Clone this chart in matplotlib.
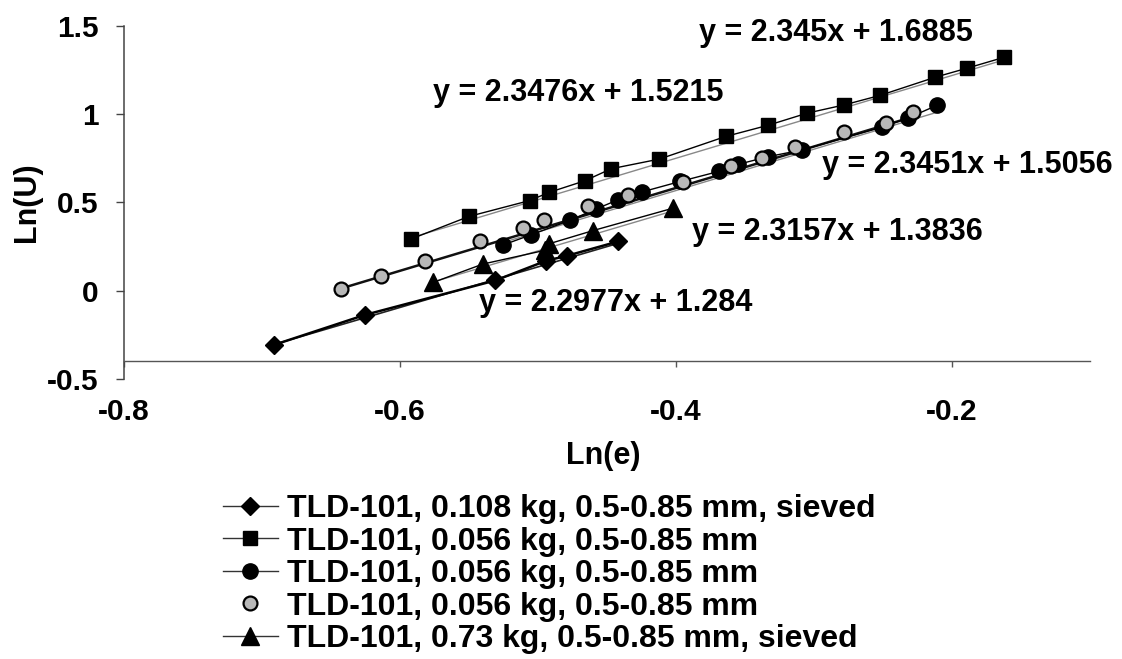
import numpy as np
import matplotlib
matplotlib.use("Agg")
import matplotlib.pyplot as plt
from matplotlib.lines import Line2D

plt.rcParams['font.family'] = ['Liberation Sans', 'DejaVu Sans']
plt.rcParams['font.weight'] = 'bold'

# Series data: Ln(e) on x, Ln(U) on y
dia_x = [-0.691, -0.625, -0.531, -0.494, -0.479, -0.442]
dia_y = [-0.306, -0.136, 0.058, 0.170, 0.198, 0.279]

sq_x = [-0.592, -0.550, -0.506, -0.492, -0.466, -0.447, -0.412, -0.364,
        -0.333, -0.305, -0.278, -0.252, -0.212, -0.189, -0.162]
sq_y = [0.293, 0.421, 0.511, 0.557, 0.623, 0.691, 0.746, 0.874,
        0.938, 1.006, 1.053, 1.107, 1.210, 1.261, 1.323]

blk_x = [-0.525, -0.505, -0.477, -0.458, -0.442, -0.425, -0.397, -0.369,
         -0.355, -0.333, -0.309, -0.251, -0.232, -0.211]
blk_y = [0.260, 0.317, 0.398, 0.463, 0.515, 0.559, 0.619, 0.676,
         0.716, 0.760, 0.797, 0.926, 0.978, 1.050]

gry_x = [-0.643, -0.614, -0.582, -0.542, -0.511, -0.496, -0.464, -0.435,
         -0.395, -0.360, -0.338, -0.314, -0.278, -0.248, -0.228]
gry_y = [0.010, 0.081, 0.168, 0.284, 0.355, 0.402, 0.481, 0.544,
         0.617, 0.704, 0.750, 0.813, 0.902, 0.952, 1.011]

tri_x = [-0.576, -0.540, -0.495, -0.492, -0.460, -0.402]
tri_y = [0.047, 0.151, 0.229, 0.266, 0.341, 0.468]

labels = ['TLD-101, 0.108 kg, 0.5-0.85 mm, sieved',
          'TLD-101, 0.056 kg, 0.5-0.85 mm',
          'TLD-101, 0.056 kg, 0.5-0.85 mm',
          'TLD-101, 0.056 kg, 0.5-0.85 mm',
          'TLD-101, 0.73 kg, 0.5-0.85 mm, sieved']

# Linear trendline coefficients (slope, intercept) shown on the chart
fit_dia = (2.2977, 1.284)
fit_sq = (2.345, 1.6885)
fit_blk = (2.3451, 1.5056)
fit_gry = (2.3476, 1.5215)
fit_tri = (2.3157, 1.3836)

# Where each equation label sits (data coords, left edge / centre)
eq_pos = {'dia': (-0.5427, -0.068), 'sq': (-0.3835, 1.461),
          'blk': (-0.2941, 0.713), 'gry': (-0.5761, 1.121),
          'tri': (-0.3886, 0.334)}

fig = plt.figure(figsize=(11.22, 6.59), dpi=100)
ax = fig.add_axes([0.1105, 0.4249, 0.861, 0.5357])

def trend(xs, fit, lw, color):
    xx = np.array([min(xs), max(xs)])
    ax.plot(xx, fit[0] * xx + fit[1], color=color, lw=lw, zorder=2)

# Trendlines
trend(dia_x, fit_dia, 1.2, '#222222')
trend(sq_x, fit_sq, 1.0, '#888888')
trend(blk_x, fit_blk, 1.0, '#888888')
trend(gry_x, fit_gry, 1.8, '#111111')
trend(tri_x, fit_tri, 1.0, '#888888')

# Data series
h1, = ax.plot(dia_x, dia_y, color='black', lw=1.8, marker='D', ms=9,
              mfc='black', mec='black', zorder=3)
h2, = ax.plot(sq_x, sq_y, color='black', lw=1.0, marker='s', ms=10.5,
              mfc='black', mec='black', zorder=3)
h3, = ax.plot(blk_x, blk_y, color='black', lw=1.0, marker='o', ms=11,
              mfc='black', mec='black', zorder=3)
h4, = ax.plot(gry_x, gry_y, linestyle='none', marker='o', ms=10,
              mfc='#b8b8b8', mec='black', mew=1.6, zorder=4)
h5, = ax.plot(tri_x, tri_y, color='black', lw=1.0, marker='^', ms=12.5,
              mfc='black', mec='black', zorder=3)

# Equation labels
eqs = [('sq', fit_sq), ('gry', fit_gry), ('blk', fit_blk),
       ('tri', fit_tri), ('dia', fit_dia)]
for key, fit in eqs:
    px, py = eq_pos[key]
    ax.text(px, py, 'y = %gx + %g' % fit, fontsize=22, fontweight='bold',
            ha='left', va='center', zorder=5)

# Axes styling
ax.set_xlim(-0.8, -0.1)
ax.set_ylim(-0.5, 1.5)
ax.set_xticks([-0.8, -0.6, -0.4, -0.2])
ax.set_xticklabels(['-0.8', '-0.6', '-0.4', '-0.2'])
ax.set_yticks([-0.5, 0, 0.5, 1, 1.5])
ax.set_yticklabels(['-0.5', '0', '0.5', '1', '1.5'])
ax.spines['top'].set_visible(False)
ax.spines['right'].set_visible(False)
ax.spines['bottom'].set_position(('data', -0.4))
ax.spines['left'].set_color('#444444')
ax.spines['bottom'].set_color('#555555')
ax.spines['left'].set_linewidth(1.1)
ax.spines['bottom'].set_linewidth(1.0)
ax.tick_params(axis='y', direction='out', length=6, width=1, color='#444444',
               pad=12, labelsize=21.5)
ax.tick_params(axis='x', direction='out', length=4.5, width=1, color='#555555',
               pad=22, labelsize=21.5)
for t in ax.get_xticklabels() + ax.get_yticklabels():
    t.set_fontweight('bold')

fig.text(27 / 1122, 1 - 202 / 659, 'Ln(U)', rotation=90, fontsize=22,
         fontweight='bold', ha='center', va='center')
fig.text(603 / 1122, 1 - 456 / 659, 'Ln(e)', fontsize=22,
         fontweight='bold', ha='center', va='center')

# Legend under the plot
leg_handles = []
for h in [h1, h2, h3, h4, h5]:
    lh = Line2D([], [], color='#333333' if h is not h4 else 'none',
                lw=1.0, marker=h.get_marker(), ms=h.get_markersize(),
                mfc=h.get_markerfacecolor(), mec=h.get_markeredgecolor(),
                mew=h.get_markeredgewidth())
    leg_handles.append(lh)
fig.legend(leg_handles, labels, loc='upper left',
           bbox_to_anchor=(223 / 1122, 1 - 494 / 659), frameon=False,
           borderpad=0, borderaxespad=0, handlelength=1.72,
           handletextpad=0.28, labelspacing=0.08,
           prop={'size': 23, 'weight': 'bold'})

fig.savefig('out.png', dpi=100)
